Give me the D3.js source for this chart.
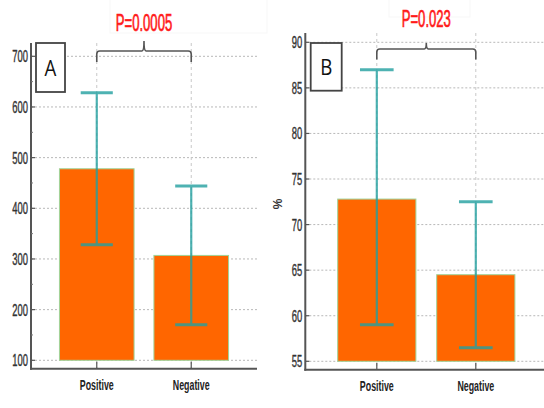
<!DOCTYPE html>
<html>
<head>
<meta charset="utf-8">
<script src="https://cdn.jsdelivr.net/npm/d3@7"></script>
<style>
  body { margin: 0; background: #fff; }
  svg { display: block; }
</style>
</head>
<body>
<div id="chart"></div>
<script>
var categories = ["Positive", "Negative"];

// panel A (absolute values)
var meanA = [478, 307];
var lowA = [328, 170];
var highA = [628, 444];
var ticksA = [100, 200, 300, 400, 500, 600, 700];
var minorA = [150, 250, 350, 450, 550, 650];
var pA = "P=0.0005";

// panel B (%)
var meanB = [72.8, 64.5];
var lowB = [59, 56.5];
var highB = [87, 72.5];
var ticksB = [55, 60, 65, 70, 75, 80, 85, 90];
var pB = "P=0.023";

var W = 544, H = 408;
var NARROW = 0.57;

var svg = d3.select('#chart').append('svg')
    .attr('width', W)
    .attr('height', H);

function narrowText(g, x, y, txt, anchor) {
    return g.append('text')
        .attr('transform', 'translate(' + x + ',' + y + ') scale(' + NARROW + ',1)')
        .attr('text-anchor', anchor)
        .text(txt);
}

function drawPanel(p) {
    var g = svg.append('g');

    var y = d3.scaleLinear().domain(p.domain).range(p.yRange);
    var x = d3.scaleBand().domain(categories).range(p.xRange)
        .paddingInner(0.21).paddingOuter(0.1);

    // very faint box behind the p value
    g.append('rect')
        .attr('x', p.pBox[0]).attr('y', -2)
        .attr('width', p.pBox[1] - p.pBox[0]).attr('height', p.pBox[2] + 2)
        .attr('fill', 'none').attr('stroke', '#f7f7f7');

    // horizontal gridlines
    g.selectAll('line.hgrid').data(p.ticks).enter().append('line')
        .attr('class', 'hgrid')
        .attr('x1', p.left).attr('x2', p.right)
        .attr('y1', function (d) { return y(d); })
        .attr('y2', function (d) { return y(d); })
        .attr('stroke', '#b8b8b8').attr('stroke-dasharray', '2,2');

    // vertical gridlines at categories
    g.selectAll('line.vgrid').data(categories).enter().append('line')
        .attr('class', 'vgrid')
        .attr('x1', function (d) { return x(d) + x.bandwidth() / 2; })
        .attr('x2', function (d) { return x(d) + x.bandwidth() / 2; })
        .attr('y1', p.top).attr('y2', p.bottom)
        .attr('stroke', '#c8c8c8').attr('stroke-dasharray', '3,3');

    // bars
    var base = p.ticks[0];
    g.selectAll('rect.bar').data(p.mean).enter().append('rect')
        .attr('class', 'bar')
        .attr('x', function (d, i) { return x(categories[i]); })
        .attr('width', x.bandwidth())
        .attr('y', function (d) { return y(d); })
        .attr('height', function (d) { return y(base) - y(d); })
        .attr('fill', '#ff6600')
        .attr('stroke', '#9fd49a').attr('stroke-width', 1);

    // error bars
    var cap = x.bandwidth() * 0.43;
    categories.forEach(function (c, i) {
        var cx = x(c) + x.bandwidth() / 2;
        var eg = g.append('g').attr('stroke', '#22a0a0').attr('stroke-width', 2.2).attr('opacity', 0.8);
        eg.append('line').attr('x1', cx).attr('x2', cx)
            .attr('y1', y(p.high[i])).attr('y2', y(p.low[i]));
        eg.append('line').attr('x1', cx - cap / 2).attr('x2', cx + cap / 2)
            .attr('y1', y(p.high[i])).attr('y2', y(p.high[i])).attr('stroke-width', 3);
        eg.append('line').attr('x1', cx - cap / 2).attr('x2', cx + cap / 2)
            .attr('y1', y(p.low[i])).attr('y2', y(p.low[i])).attr('stroke-width', 3);
    });

    // axes frame
    g.append('line').attr('x1', p.left).attr('x2', p.left)
        .attr('y1', p.top).attr('y2', p.bottom + 1)
        .attr('stroke', '#555').attr('stroke-width', 2);
    g.append('line').attr('x1', p.left - 1).attr('x2', p.right)
        .attr('y1', p.bottom).attr('y2', p.bottom)
        .attr('stroke', '#555').attr('stroke-width', 2);

    // y ticks (inward) + labels
    g.selectAll('line.ytick').data(p.ticks).enter().append('line')
        .attr('x1', p.left).attr('x2', p.left + 4)
        .attr('y1', function (d) { return y(d); })
        .attr('y2', function (d) { return y(d); })
        .attr('stroke', '#555').attr('stroke-width', 1.2);
    g.selectAll('line.minor').data(p.minor).enter().append('line')
        .attr('x1', p.left).attr('x2', p.left + 2)
        .attr('y1', function (d) { return y(d); })
        .attr('y2', function (d) { return y(d); })
        .attr('stroke', '#777');
    var tl = g.append('g')
        .style('font-family', '"Liberation Sans", Arial, sans-serif')
        .style('font-size', '16.5px').attr('fill', '#333')
        .attr('stroke', '#333').attr('stroke-width', 0.4);
    p.ticks.forEach(function (t) {
        narrowText(tl, p.left - 3, y(t) + 6, t, 'end');
    });

    // x ticks (inward) + labels
    categories.forEach(function (c) {
        var cx = x(c) + x.bandwidth() / 2;
        g.append('line').attr('x1', cx).attr('x2', cx)
            .attr('y1', p.bottom).attr('y2', p.bottom - 7)
            .attr('stroke', '#555').attr('stroke-width', 1.2);
    });
    var xl = g.append('g')
        .style('font-family', '"Liberation Sans", Arial, sans-serif')
        .style('font-size', '15.5px').style('font-weight', 'bold').attr('fill', '#222');
    categories.forEach(function (c) {
        narrowText(xl, x(c) + x.bandwidth() / 2, p.bottom + 21, c, 'middle');
    });

    // significance bracket
    var x1 = x(categories[0]) + x.bandwidth() / 2;
    var x2 = x(categories[1]) + x.bandwidth() / 2;
    var xc = (x1 + x2) / 2;
    var b = p.bracket;
    var path = 'M' + x1 + ',' + b[2] + 'V' + (b[0] + 3) + 'Q' + x1 + ',' + b[0] + ' ' + (x1 + 3) + ',' + b[0] +
        'H' + (xc - 2) + 'Q' + xc + ',' + b[0] + ' ' + xc + ',' + b[1] +
        'Q' + xc + ',' + b[0] + ' ' + (xc + 2) + ',' + b[0] +
        'H' + (x2 - 3) + 'Q' + x2 + ',' + b[0] + ' ' + x2 + ',' + (b[0] + 3) + 'V' + b[2];
    g.append('path').attr('d', path).attr('fill', 'none')
        .attr('stroke', '#555').attr('stroke-width', 1.6);

    var pt = g.append('g')
        .style('font-family', '"Liberation Sans", Arial, sans-serif')
        .style('font-size', '23px').attr('fill', '#ff1a1a')
        .attr('stroke', '#ff1a1a').attr('stroke-width', 0.7);
    narrowText(pt, xc, p.pY, p.pText, 'middle');

    // panel letter box
    var lb = p.labelBox;
    g.append('rect').attr('x', lb[0]).attr('y', lb[1])
        .attr('width', lb[2]).attr('height', lb[3])
        .attr('fill', '#fff').attr('stroke', '#444').attr('stroke-width', 1.8);
    g.append('text')
        .attr('transform', 'translate(' + (lb[0] + lb[2] / 2) + ',' + (lb[1] + lb[3] / 2 + 8) + ') scale(0.85,1)')
        .attr('text-anchor', 'middle')
        .style('font-family', '"Open Sans", "Liberation Sans", sans-serif')
        .style('font-size', '22px').attr('fill', '#111')
        .text(p.letter);

    if (p.yLabel) {
        g.append('text')
            .attr('transform', 'translate(' + p.yLabel[0] + ',' + p.yLabel[1] + ') rotate(-90)')
            .attr('text-anchor', 'middle')
            .style('font-family', '"Liberation Sans", Arial, sans-serif')
            .style('font-size', '12px').style('font-weight', 'bold').attr('fill', '#333')
            .text(p.yLabel[2]);
    }
}

drawPanel({
    mean: meanA, low: lowA, high: highA, ticks: ticksA, minor: minorA,
    domain: [100, 700], yRange: [360.3, 56.3],
    xRange: [50, 238],
    left: 31, right: 257, top: 43, bottom: 368.7,
    bracket: [51, 41, 62], pText: pA, pY: 31, pBox: [110, 267, 33],
    labelBox: [36, 43, 29, 49], letter: "A"
});

drawPanel({
    mean: meanB, low: lowB, high: highB, ticks: ticksB, minor: [],
    domain: [55, 90], yRange: [361.3, 42.3],
    xRange: [327.8, 524.8],
    left: 305.3, right: 544, top: 33, bottom: 369.7,
    bracket: [49, 43, 59.5], pText: pB, pY: 27, pBox: [389, 470, 17],
    labelBox: [310.7, 43, 31, 47.7], letter: "B",
    yLabel: [282, 204, "%"]
});
</script>
</body>
</html>
